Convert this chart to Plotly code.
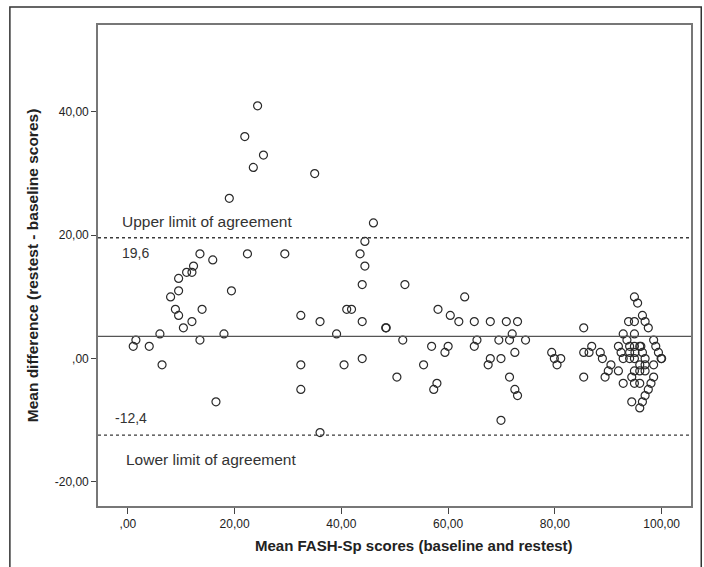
import plotly.graph_objects as go

# Mean of baseline and retest scores (x) and their difference (y)
mean_scores = [
    24.3, 21.9, 25.4, 23.5, 19.0, 13.5, 15.9, 22.4, 29.4, 12.3, 11.0, 12.0, 9.5, 8.0, 9.5, 19.4,
    8.9, 9.5, 13.9, 12.0, 10.4, 6.0, 18.0, 1.5, 1.0, 4.0, 13.5, 6.4, 16.5,
    35.0, 46.0, 44.4, 43.5, 44.4, 43.9, 51.9, 63.1, 32.4, 36.0, 41.0, 41.9, 43.9, 58.1, 60.4,
    62.0, 64.9, 39.1, 48.3, 48.4, 51.5, 56.9, 60.0, 59.4, 64.9, 65.4, 32.4, 40.5, 43.9, 55.4,
    50.4, 32.4, 57.9, 57.3, 36.0,
    67.9, 70.9, 73.0, 72.0, 69.5, 71.5, 74.5, 67.9, 67.5, 69.9, 72.5, 71.5, 72.5, 73.0, 69.9,
    79.4, 79.9, 81.1, 80.4, 85.4, 85.4, 86.4, 86.9, 85.4, 88.5, 88.9, 90.5, 90.0, 89.4, 91.9, 92.8,
    94.9, 95.5, 93.8, 94.9, 96.4, 96.9, 97.5, 92.8, 94.9, 93.5, 98.5, 91.9, 94.0, 94.9, 95.9,
    96.1, 98.9, 92.4, 94.0, 95.0, 96.4, 99.4, 92.8, 94.0, 94.9, 96.9, 99.9, 100.0, 95.9, 96.9,
    98.5, 94.9, 95.9, 96.9, 94.4, 98.5, 94.9, 95.9, 98.0, 97.5, 96.9, 96.4, 94.4, 95.9,
]
differences = [
    41, 36, 33, 31, 26, 17, 16, 17, 17, 15, 14, 14, 13, 10, 11, 11,
    8, 7, 8, 6, 5, 4, 4, 3, 2, 2, 3, -1, -7,
    30, 22, 19, 17, 15, 12, 12, 10, 7, 6, 8, 8, 6, 8, 7,
    6, 6, 4, 5, 5, 3, 2, 2, 1, 2, 3, -1, -1, 0, -1,
    -3, -5, -4, -5, -12,
    6, 6, 6, 4, 3, 3, 3, 0, -1, 0, 1, -3, -5, -6, -10,
    1, 0, 0, -1, 5, 1, 1, 2, -3, 1, 0, -1, -2, -3, -2, -4,
    10, 9, 6, 6, 7, 6, 5, 4, 4, 3, 3, 2, 2, 2, 2,
    2, 2, 1, 1, 1, 1, 1, 0, 0, 0, 0, 0, 0, -1, -1,
    -1, -2, -2, -2, -3, -3, -4, -4, -4, -5, -6, -7, -7, -8,
]

mean_diff = 3.6
upper_loa = 19.6
lower_loa = -12.4

x_ticks = [0, 20, 40, 60, 80, 100]
x_tick_labels = [",00", "20,00", "40,00", "60,00", "80,00", "100,00"]
y_ticks = [-20, 0, 20, 40]
y_tick_labels = ["-20,00", ",00", "20,00", "40,00"]

FONT = "Liberation Sans, Arial, sans-serif"

fig = go.Figure()
fig.add_trace(go.Scatter(
    x=mean_scores, y=differences, mode="markers",
    marker=dict(symbol="circle-open", size=8, color="#2a2a2a", line=dict(width=1.2, color="#2a2a2a")),
    hoverinfo="x+y", showlegend=False,
))

line_col = "#3a3a3a"
fig.add_hline(y=mean_diff, line=dict(color="#555555", width=1.3))
fig.add_hline(y=upper_loa, line=dict(color=line_col, width=1.3, dash="dot"))
fig.add_hline(y=lower_loa, line=dict(color=line_col, width=1.3, dash="dot"))

ann_font = dict(family=FONT, size=15.5, color="#333333")
fig.add_annotation(x=-1.5, y=22.2, text="Upper limit of agreement", showarrow=False,
                   xanchor="left", yanchor="middle", font=ann_font)
fig.add_annotation(x=-1.4, y=17.1, text="19,6", showarrow=False,
                   xanchor="left", yanchor="middle", font=dict(family=FONT, size=14, color="#333333"))
fig.add_annotation(x=-2.7, y=-9.7, text="-12,4", showarrow=False,
                   xanchor="left", yanchor="middle", font=dict(family=FONT, size=14, color="#333333"))
fig.add_annotation(x=-0.8, y=-16.3, text="Lower limit of agreement", showarrow=False,
                   xanchor="left", yanchor="middle", font=ann_font)

# axis titles
fig.add_annotation(xref="paper", yref="paper", x=0.533, y=-0.083,
                   text="<b>Mean FASH-Sp scores (baseline and restest)</b>", showarrow=False,
                   xanchor="center", yanchor="middle", font=dict(family=FONT, size=15, color="#222222"))
fig.add_annotation(xref="paper", yref="paper", x=-0.11, y=0.5, textangle=-90,
                   text="<b>Mean difference (restest - baseline scores)</b>", showarrow=False,
                   xanchor="center", yanchor="middle", font=dict(family=FONT, size=15.5, color="#222222"))

# outer frame
fig.add_shape(type="rect", xref="paper", yref="paper", x0=-0.1486, x1=1.0173, y0=-0.14, y1=1.0374,
              line=dict(color="#333333", width=1.5), fillcolor="rgba(0,0,0,0)", layer="below")

fig.update_xaxes(range=[-5.6, 105.5], tickvals=x_ticks, ticktext=x_tick_labels,
                 showgrid=False, zeroline=False, showline=True, mirror=True,
                 linecolor="#777777", linewidth=1.6, ticks="outside", ticklen=6,
                 tickcolor="#444444", tickwidth=1.2,
                 tickfont=dict(family=FONT, size=12, color="#222222"))
fig.update_yaxes(range=[-23.9, 54.1], tickvals=y_ticks, ticktext=y_tick_labels,
                 showgrid=False, zeroline=False, showline=True, mirror=True,
                 linecolor="#777777", linewidth=1.6, ticks="outside", ticklen=5,
                 tickcolor="#444444", tickwidth=1.2,
                 tickfont=dict(family=FONT, size=12, color="#222222"))

fig.update_layout(width=704, height=567,
                  margin=dict(l=98, r=11, t=25, b=61),
                  paper_bgcolor="white", plot_bgcolor="white")

fig.write_html("out.html", config={"displayModeBar": False},
               post_script="document.body.style.margin='0';")
